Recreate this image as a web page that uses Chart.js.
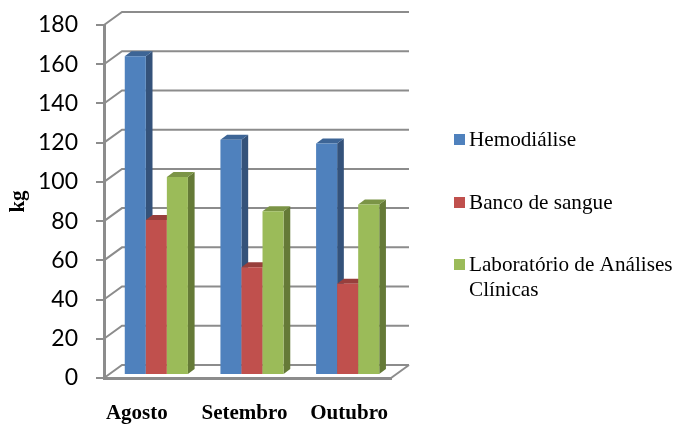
<!DOCTYPE html>
<html>
<head>
<meta charset="utf-8">
<style>
  html, body { margin: 0; padding: 0; background: #fff; }
  #wrap { width: 675px; height: 424px; }
</style>
<script src="https://cdn.jsdelivr.net/npm/chart.js@4"></script>
</head>
<body>
<div id="wrap"><canvas id="chart" width="675" height="424"></canvas></div>
<script>
const categories = ['Agosto', 'Setembro', 'Outubro'];
const hemodialise = [162.5, 120, 118];
const bancoSangue = [79, 55, 46.5];
const laboratorio = [101, 83.5, 87];
const seriesNames = ['Hemodiálise', 'Banco de sangue', 'Laboratório de Análises Clínicas'];
const legendLines = [['Hemodiálise'], ['Banco de sangue'], ['Laboratório de Análises', 'Clínicas']];
const frontColors = ['#4f81bd', '#c0504d', '#9bbb59'];
const sideColors = ['#34527a', '#7f3532', '#657a37'];
const topColors = ['#3d6596', '#983f3c', '#7b9446'];
const yTicks = [0, 20, 40, 60, 80, 100, 120, 140, 160, 180];

const gridColor = '#8c8c8c';
const serif = '"Liberation Serif", serif';

// depth of the box, and where the bars sit inside it
const boxDx = 18, boxDy = 13;
const barShiftX = 4.5, barShiftY = 3;
const barDx = 6.7, barDy = 5;
// the category labels in the source are not centred under their groups
const labelShift = [-15, -3, 6];

const box3d = {
  id: 'box3d',
  beforeDatasetsDraw(chart) {
    const ctx = chart.ctx, x = chart.scales.x, y = chart.scales.y;
    const left = x.left, right = x.right, base = y.bottom;

    ctx.save();
    ctx.strokeStyle = gridColor;
    ctx.lineWidth = 2;
    yTicks.forEach(v => {
      const py = y.getPixelForValue(v);
      ctx.beginPath();
      ctx.moveTo(left, py);
      ctx.lineTo(left + boxDx, py - boxDy);
      ctx.lineTo(right + boxDx, py - boxDy);
      ctx.stroke();
    });
    // floor, right edge
    ctx.beginPath();
    ctx.moveTo(right, base);
    ctx.lineTo(right + boxDx, base - boxDy);
    ctx.stroke();
    ctx.restore();

    // bars by hand so each one gets its side and top, left to right
    ctx.save();
    ctx.translate(barShiftX, -barShiftY);
    chart.data.datasets.forEach((ds, i) => {
      chart.getDatasetMeta(i).data.forEach(bar => {
        const x1 = bar.x - bar.width / 2, x2 = bar.x + bar.width / 2;
        ctx.fillStyle = sideColors[i];
        ctx.beginPath();
        ctx.moveTo(x2, bar.y);
        ctx.lineTo(x2 + barDx, bar.y - barDy);
        ctx.lineTo(x2 + barDx, bar.base - barDy);
        ctx.lineTo(x2, bar.base);
        ctx.closePath();
        ctx.fill();
        ctx.fillStyle = topColors[i];
        ctx.beginPath();
        ctx.moveTo(x1, bar.y);
        ctx.lineTo(x1 + barDx, bar.y - barDy);
        ctx.lineTo(x2 + barDx, bar.y - barDy);
        ctx.lineTo(x2, bar.y);
        ctx.closePath();
        ctx.fill();
        bar.draw(ctx);
      });
    });
    ctx.restore();
    return false;
  },
  afterDraw(chart) {
    const ctx = chart.ctx, x = chart.scales.x;
    ctx.save();
    ctx.fillStyle = '#000';
    ctx.textBaseline = 'middle';

    ctx.font = 'bold 21px ' + serif;
    ctx.textAlign = 'center';
    categories.forEach((c, i) => {
      ctx.fillText(c, x.getPixelForTick(i) + labelShift[i], 414);
    });

    // legend
    const legendY = [139.5, 202.5, 264.5];
    ctx.font = '21.2px ' + serif;
    ctx.textAlign = 'left';
    legendLines.forEach((lines, i) => {
      ctx.fillStyle = frontColors[i];
      ctx.fillRect(454, legendY[i] - 5.5, 11, 11);
      ctx.fillStyle = '#000';
      lines.forEach((t, j) => ctx.fillText(t, 469, legendY[i] + 1 + j * 25));
    });
    ctx.restore();
  }
};

new Chart(document.getElementById('chart').getContext('2d'), {
  type: 'bar',
  data: {
    labels: categories,
    datasets: [
      { label: seriesNames[0], data: hemodialise, backgroundColor: frontColors[0] },
      { label: seriesNames[1], data: bancoSangue, backgroundColor: frontColors[1] },
      { label: seriesNames[2], data: laboratorio, backgroundColor: frontColors[2] }
    ]
  },
  options: {
    responsive: false,
    animation: false,
    layout: { padding: { top: 25, right: 284, bottom: 0, left: 0 } },
    datasets: { bar: { categoryPercentage: 0.66, barPercentage: 1 } },
    plugins: { legend: { display: false }, tooltip: { enabled: false } },
    scales: {
      x: {
        grid: { display: false },
        border: { color: gridColor, width: 3 },
        ticks: { display: false },
        afterFit(scale) { scale.height = 46; scale.paddingLeft = 0; scale.paddingRight = 0; }
      },
      y: {
        min: 0,
        max: 180,
        grid: { drawOnChartArea: false, color: gridColor, lineWidth: 2, tickLength: 8 },
        border: { color: gridColor, width: 3 },
        ticks: {
          stepSize: 20,
          padding: 18,
          color: '#000',
          font: { family: 'Lato', size: 23 }
        },
        title: {
          display: true,
          text: 'kg',
          color: '#000',
          font: { family: serif, size: 21, weight: 'bold' },
          padding: { top: 6, bottom: 0 }
        },
        // fixed box: no room reserved for half a tick label
        afterFit(scale) { scale.width = 104; scale.paddingTop = 0; scale.paddingBottom = 0; }
      }
    }
  },
  plugins: [box3d]
});
</script>
</body>
</html>
